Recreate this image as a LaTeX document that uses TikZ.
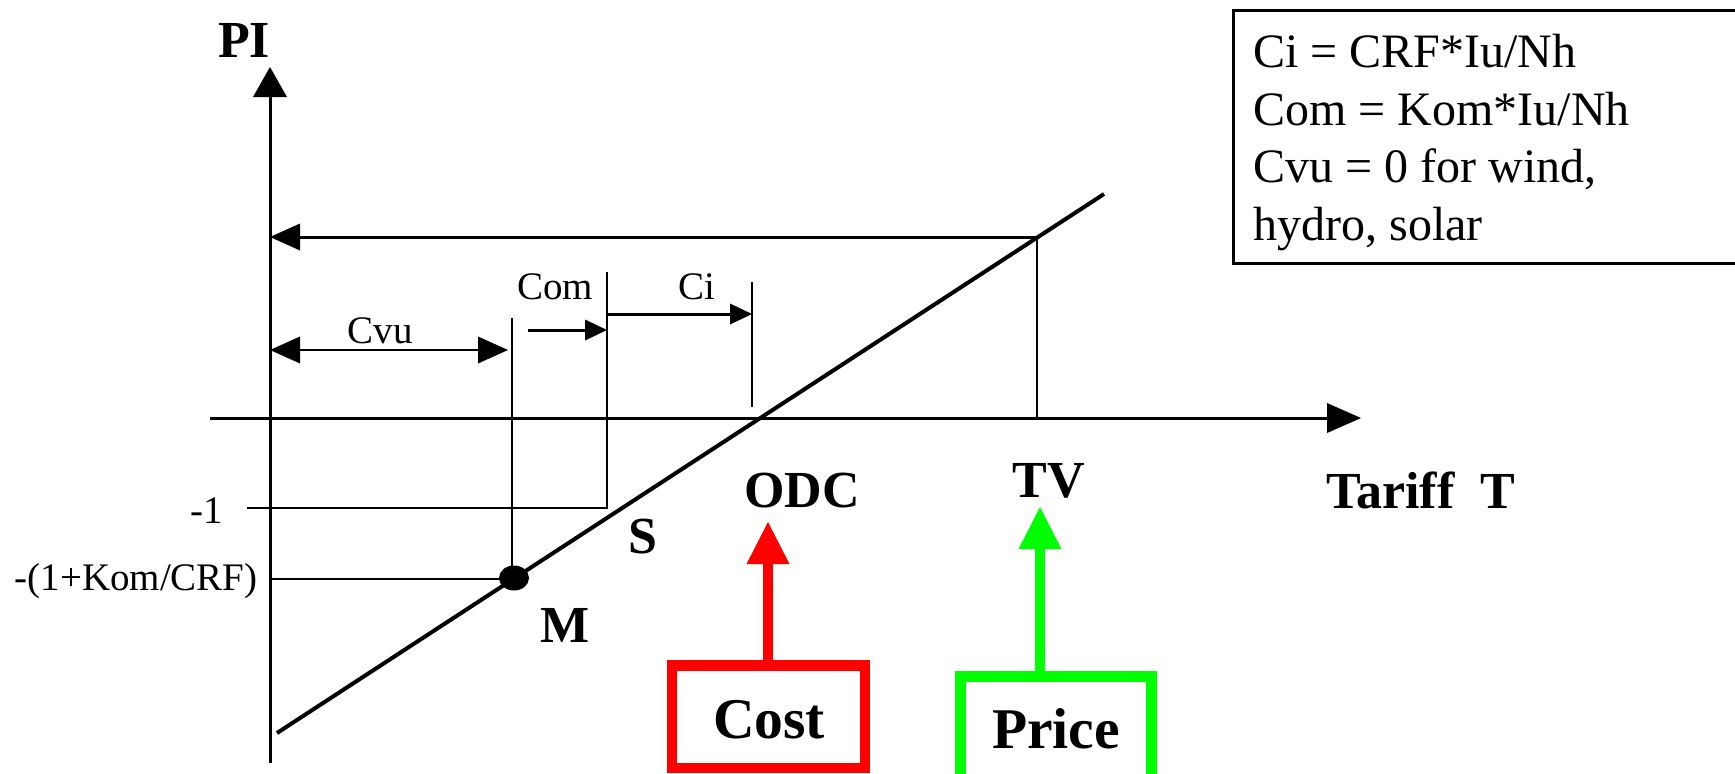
\documentclass[tikz,border=0pt]{standalone}
\usepackage{fontspec}
\setmainfont{Liberation Serif}
\usetikzlibrary{arrows.meta}
\definecolor{costred}{RGB}{255,0,0}
\definecolor{pricegreen}{RGB}{0,255,0}
\begin{document}
\begin{tikzpicture}[x=0.5pt,y=-0.5pt,
  axis/.style={line width=1.5pt},
  guide/.style={line width=1.1pt},
  slope/.style={line width=2pt},
  axtip/.style={-{Triangle[length=15pt,width=17pt,line width=0pt]}},
  xtip/.style={-{Triangle[length=17pt,width=15pt,line width=0pt]}},
  dimtip/.style={-{Triangle[length=15pt,width=13.5pt,line width=0pt]}},
  dimboth/.style={{Triangle[length=15pt,width=13.5pt,line width=0pt]}-{Triangle[length=15pt,width=13.5pt,line width=0pt]}},
  smalltip/.style={-{Triangle[length=11pt,width=10.5pt,line width=0pt]}},
  bigtip/.style={-{Triangle[length=21pt,width=21.5pt,line width=0pt]}},
  lbl/.style={font=\fontsize{19.5}{23}\selectfont, inner sep=0pt, anchor=base},
  bold/.style={font=\bfseries\fontsize{26}{30}\selectfont, inner sep=0pt, anchor=base},
  boxtxt/.style={font=\bfseries\fontsize{28.8}{33}\selectfont, inner sep=0pt, anchor=base},
  ftxt/.style={font=\fontsize{24}{29}\selectfont, inner sep=0pt, anchor=base west},
]
\useasboundingbox (0,0) rectangle (1735,773);
\clip (0,0) rectangle (1735,773);

% key coordinates
\coordinate (ybot) at (270,763);
\coordinate (ytop) at (270,67);
\coordinate (xl) at (210,418);
\coordinate (xr) at (1361,418);
\coordinate (sA) at (277,733);
\coordinate (sB) at (1104,194);
\coordinate (M) at (514,578);
\coordinate (mtop) at (512,318);
\coordinate (mbot) at (512,578);
\coordinate (comtop) at (607,272);
\coordinate (combot) at (607,508);
\coordinate (citop) at (752,282);
\coordinate (cibot) at (752,407);
\coordinate (tvtop) at (1037,237);
\coordinate (tvbot) at (1037,418);
\coordinate (pitop) at (270,237);
\coordinate (m1l) at (247,508);
\coordinate (kl) at (270,579);
\coordinate (kr) at (511,579);
\coordinate (cvul) at (270,350);
\coordinate (cvur) at (508,350);
\coordinate (coml) at (528,330);
\coordinate (comr) at (607,330);
\coordinate (cil) at (607,314);
\coordinate (cir) at (752,314);
\coordinate (odctip) at (768,522);
\coordinate (costtop) at (768,665);
\coordinate (tvtip) at (1040,507);
\coordinate (pricetop) at (1040,676);

% axes
\draw[axis, axtip] (ybot) -- (ytop);
\draw[axis, xtip] (xl) -- (xr);

% guide lines
\draw[guide] (mtop) -- (mbot);
\draw[guide] (comtop) -- (combot) -- (m1l);
\draw[guide] (citop) -- (cibot);
\draw[guide] (tvbot) -- (tvtop);
\draw[guide] (kl) -- (kr);

% top arrow to PI axis
\draw[axis, dimtip] (tvtop) -- (pitop);

% dimension arrows
\draw[guide, dimboth] (cvul) -- (cvur);
\draw[axis, smalltip] (coml) -- (comr);
\draw[axis, smalltip] (cil) -- (cir);

% slope line and point M
\draw[slope] (sA) -- (sB);
\fill (M) ellipse [x radius=15, y radius=12.5];

% labels
\node[bold] (pi) at (244,57) {PI};
\node[lbl] (cvu) at (380,343) {Cvu};
\node[lbl] (com) at (555,299) {Com};
\node[lbl] (ci) at (697,299) {Ci};
\node[lbl, anchor=base east] (m1) at (223,523) {-1};
\node[lbl, anchor=base east] (kom) at (258,590) {-(1+Kom/CRF)};
\node[bold] (mlbl) at (565,642) {M};
\node[bold] (slbl) at (643,553) {S};
\node[bold] (odc) at (802,507) {ODC};
\node[bold] (tv) at (1049,497) {TV};
\node[bold, anchor=base west] (tariff) at (1326,508) {Tariff~~T};

% cost box and arrow
\draw[costred, line width=5.25pt] (672,665.5) rectangle (865,768);
\node[boxtxt] (cost) at (769,738) {Cost};
\draw[costred, line width=5pt, bigtip] (costtop) -- (odctip);

% price box and arrow
\draw[pricegreen, line width=5.5pt] (960.5,800) -- (960.5,676.5) -- (1151.5,676.5) -- (1151.5,800);
\node[boxtxt] (price) at (1056,748) {Price};
\draw[pricegreen, line width=5.3pt, bigtip] (pricetop) -- (tvtip);

% formula box
\draw[line width=1.5pt] (1233,10) rectangle (1760,263);
\node[ftxt] (f1) at (1253,67) {Ci = CRF*Iu/Nh};
\node[ftxt] (f2) at (1253,125) {Com = Kom*Iu/Nh};
\node[ftxt] (f3) at (1253,182) {Cvu = 0 for wind,};
\node[ftxt] (f4) at (1253,240) {hydro, solar};
\end{tikzpicture}
\end{document}
